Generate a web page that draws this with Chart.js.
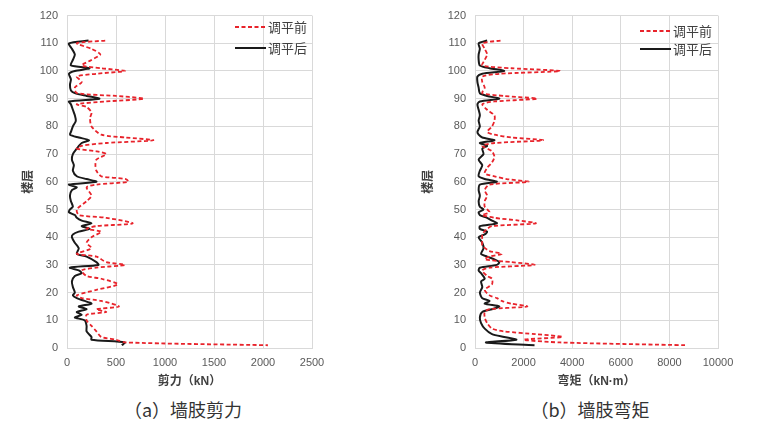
<!DOCTYPE html>
<html>
<head>
<meta charset="utf-8">
<script src="https://cdn.jsdelivr.net/npm/chart.js@4/dist/chart.umd.min.js"></script>
<style>
body{margin:0;width:760px;height:423px;background:#fff;position:relative;overflow:hidden;font-family:"Noto Sans CJK SC",sans-serif}
canvas{position:absolute;top:0}
.cap{position:absolute;top:397px;font-size:18px;color:#333;transform:translateX(-50%);white-space:nowrap;line-height:24px}
</style>
</head>
<body>
<canvas id="c1" width="380" height="395" style="left:0"></canvas>
<canvas id="c2" width="360" height="395" style="left:400px"></canvas>
<div class="cap" style="left:183px">（a）墙肢剪力</div>
<div class="cap" style="left:590px">（b）墙肢弯矩</div>
<script>
const seriesNames = ['调平前', '调平后'];
const floorTicks = [0, 10, 20, 30, 40, 50, 60, 70, 80, 90, 100, 110, 120];

// 墙肢剪力 (kN)
const shearFloorsBefore = [111,110,108,106,104,102,101,100,99,98,96,94,92,91,90,89,88,87,85,83,80,77,76,75,74,73,72,71,70,68,66,64,62,61,60,59,58,55,53,50,48,47,45,44,43,42,40,38,36,34,33,31,30,29,28,26,25,23,21,19,18,17,15,14,13,12,10,8,6,4,3,2,1];
const shearBefore = [390,100,250,340,250,150,350,590,300,100,150,80,100,500,785,400,100,200,250,235,250,350,600,880,400,150,100,300,400,300,290,300,350,600,625,300,200,250,200,100,120,400,670,300,200,350,250,200,250,100,300,400,590,300,150,200,350,520,300,100,150,350,530,300,400,200,200,250,300,350,500,600,2050];
const shearFloorsAfter = [111,110,108,106,104,102,101,100,99,97,95,93,92,91,90,89,88,86,84,82,80,78,77,76,75,74,72,70,68,66,64,62,61,60,59,58,57,55,53,51,50,49,48,47,46,45,44,43,42,41,40,38,36,34,33,31,30,29,28,27,26,24,22,20,19,18,17,16,15,14,13,12,11,10,8,6,4,3,2,1];
const shearAfter = [220,20,50,80,60,40,230,80,20,40,30,40,80,200,330,20,40,60,80,90,60,40,30,120,225,150,100,60,50,70,60,100,200,300,20,100,50,30,40,60,30,20,80,100,150,250,150,230,120,60,50,80,120,100,200,300,320,30,120,150,80,50,60,80,60,100,180,250,120,200,100,150,80,180,200,200,250,250,590,560];

// 墙肢弯矩 (kN·m)
const momentFloorsBefore = [111,110,108,106,104,102,101,100,99,98,96,94,92,91,90,89,88,86,84,82,80,78,77,76,75,74,73,71,69,67,65,63,62,61,60,59,57,55,53,51,49,48,47,46,45,44,43,41,39,37,35,34,33,32,31,30,29,28,26,25,23,21,19,18,17,16,15,14,13,11,9,7,6,5,4,3,2,1];
const momentBefore = [1050,300,400,500,400,300,1500,3500,1000,300,300,400,300,1200,2550,800,300,500,800,800,700,500,800,1500,2800,800,300,700,800,700,500,400,800,1300,2200,600,400,500,400,400,600,300,800,1800,2500,700,500,300,300,300,600,1100,600,400,1500,2450,600,300,500,700,700,400,600,900,1100,1500,2150,600,400,400,500,700,1200,2500,3600,2000,3500,8700];
const momentFloorsAfter = [111,110,108,106,104,102,101,100,99,98,96,94,92,91,90,89,88,86,84,82,80,78,77,76,75,74,73,72,70,68,66,64,62,61,60,59,57,55,53,51,50,49,48,47,46,45,44,43,42,41,40,38,36,34,33,32,31,30,29,28,27,25,24,22,20,18,17,16,15,14,13,11,9,7,5,4,3,2,1];
const momentAfter = [500,150,200,150,150,200,600,1200,300,100,100,150,200,500,1000,200,100,150,200,150,200,100,150,300,800,200,500,300,350,150,300,200,150,400,900,200,150,200,150,200,350,150,200,500,700,900,200,200,500,400,150,300,350,250,500,800,1000,900,200,150,250,400,250,300,200,300,600,400,1000,700,300,200,250,400,700,1200,1700,450,2450];

function pts(xs, ys) {
  return xs.map((v, i) => ({x: v, y: ys[i]}));
}

const legendInside = {
  id: 'legendInside',
  afterDraw(chart, args, opts) {
    const ctx = chart.ctx;
    ctx.save();
    chart.data.datasets.forEach((ds, i) => {
      const y = opts.y + i * opts.gap;
      ctx.strokeStyle = ds.borderColor;
      ctx.lineWidth = 2;
      ctx.setLineDash(ds.borderDash || []);
      ctx.beginPath();
      ctx.moveTo(opts.x, y);
      ctx.lineTo(opts.x + 31, y);
      ctx.stroke();
      ctx.setLineDash([]);
      ctx.fillStyle = '#404040';
      ctx.font = '13px "Noto Sans CJK SC"';
      ctx.textBaseline = 'middle';
      ctx.fillText(ds.label, opts.x + 33, y);
    });
    ctx.restore();
  }
};

function makeChart(id, before, after, xMax, xStep, xTitle, yWidth, rightPad, legendPos) {
  new Chart(document.getElementById(id), {
    type: 'scatter',
    data: {
      datasets: [
        {label: seriesNames[0], data: before, showLine: true, borderColor: '#e8232b', borderWidth: 1.8, borderDash: [4, 2.5], pointRadius: 0, tension: 0.25},
        {label: seriesNames[1], data: after, showLine: true, borderColor: '#1a1a1a', borderWidth: 2, pointRadius: 0, tension: 0.25}
      ]
    },
    options: {
      responsive: false,
      animation: false,
      layout: {padding: {left: 0, right: rightPad, top: 10, bottom: 0}},
      plugins: {legend: {display: false}, tooltip: {enabled: false}, legendInside: legendPos},
      scales: {
        x: {
          type: 'linear', min: 0, max: xMax,
          grid: {color: '#d9d9d9', drawTicks: false},
          border: {color: '#d9d9d9'},
          ticks: {stepSize: xStep, padding: 8, color: '#595959', font: {size: 11, family: 'Liberation Sans'}, callback: v => String(v)},
          title: {display: true, text: xTitle, color: '#404040', font: {size: 12, weight: 'bold', family: '"Liberation Sans", "Noto Sans CJK SC"'}, padding: {top: 2, bottom: 6}},
          afterFit: a => { a.height = 47; }
        },
        y: {
          type: 'linear', min: 0, max: 120,
          afterBuildTicks: a => { a.ticks = floorTicks.map(v => ({value: v})); },
          grid: {color: '#d9d9d9', drawTicks: false},
          border: {color: '#d9d9d9'},
          ticks: {padding: 9, color: '#595959', font: {size: 11, family: 'Liberation Sans'}, callback: v => String(v)},
          title: {display: true, text: '楼层', color: '#404040', font: {size: 12, weight: 'bold', family: '"Noto Sans CJK SC"'}, padding: {top: 20, bottom: 0}},
          afterFit: a => { a.width = yWidth; }
        }
      }
    },
    plugins: [legendInside]
  });
}

makeChart('c1', pts(shearBefore, shearFloorsBefore), pts(shearAfter, shearFloorsAfter), 2500, 500, '剪力（kN）', 67, 68, {x: 235, y: 27, gap: 21});
makeChart('c2', pts(momentBefore, momentFloorsBefore), pts(momentAfter, momentFloorsAfter), 10000, 2000, '弯矩（kN·m）', 75, 42, {x: 240, y: 31, gap: 18});
</script>
</body>
</html>
